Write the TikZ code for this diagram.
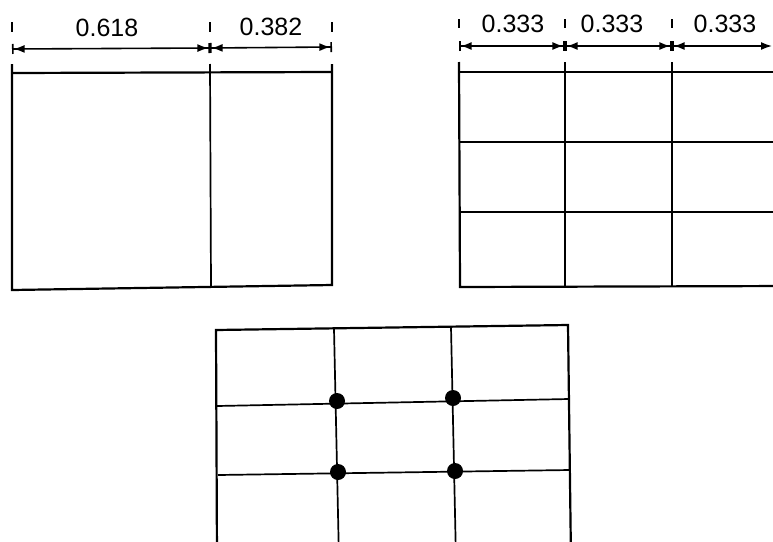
\documentclass[tikz,border=0pt]{standalone}
\usepackage{fontspec}
\setmainfont{Liberation Sans}
\usetikzlibrary{arrows.meta}
\begin{document}
\begin{tikzpicture}[x=1pt,y=-1pt,
  frame/.style={line width=2.2pt},
  inner/.style={line width=1.7pt},
  ext/.style={line width=1.3pt},
  dim/.style={line width=1.6pt,{Bar[width=10pt]Latex[length=11pt,width=8pt]}-{Latex[length=11pt,width=8pt]Bar[width=10pt]}},
  lab/.style={font=\fontsize{25}{28}\selectfont, inner sep=0pt},
  dot/.style={circle,fill=black,inner sep=0pt,minimum size=16pt}]
\useasboundingbox (0,0) rectangle (773,541);
\clip (0,0) rectangle (773,541);
% ---------- left panel ----------
\coordinate (L1) at (12,73); \coordinate (L3) at (332,72);
\draw[frame] (12,64) -- (12,290) -- (332,285) -- (332,64);
\draw[frame] (L1) -- (L3);
\draw[inner] (210,64) -- (211,287);
\foreach \x in {12,210,332} \draw[ext] (\x,22) -- (\x,32);
\coordinate (a1) at (12,49); \coordinate (a2) at (210,48); \coordinate (a3) at (332,47);
\draw[dim] (a1) -- (a2);
\draw[dim] (a2) -- (a3);
\node[lab] (t1) at (107,28) {0.618};
\node[lab] (t2) at (271,27) {0.382};
% ---------- right panel ----------
\draw[frame] (459,62) -- (460,287) -- (790,286);
\draw[frame] (459,72) -- (790,72);
\draw[inner] (459,142) -- (790,142);
\draw[inner] (459,212) -- (790,212);
\draw[inner] (565,62) -- (565,286);
\draw[inner] (672,62) -- (672,286);
\foreach \x in {459,565,672} \draw[ext] (\x,19) -- (\x,28);
\coordinate (b1) at (459,46); \coordinate (b2) at (565,46); \coordinate (b3) at (672,46); \coordinate (b4) at (772,46);
\draw[dim] (b1) -- (b2);
\draw[dim] (b2) -- (b3);
\draw[line width=1.6pt,{Bar[width=10pt]Latex[length=11pt,width=8pt]}-{Latex[length=11pt,width=8pt]}] (b3) -- (b4);
\node[lab] (t3) at (513,24) {0.333};
\node[lab] (t4) at (612,24) {0.333};
\node[lab] (t5) at (725,24) {0.333};
% ---------- bottom panel ----------
\draw[frame] (217,560) -- (216,330) -- (568,325) -- (571,560);
\draw[inner] (217,406) -- (569,399);
\draw[inner] (218,475) -- (570,470);
\draw[inner] (334,329) -- (339,560);
\draw[inner] (451,327) -- (456,560);
\node[dot] (d1) at (337,401) {};
\node[dot] (d2) at (453,398) {};
\node[dot] (d3) at (338,472) {};
\node[dot] (d4) at (455,471) {};
\end{tikzpicture}
\end{document}
